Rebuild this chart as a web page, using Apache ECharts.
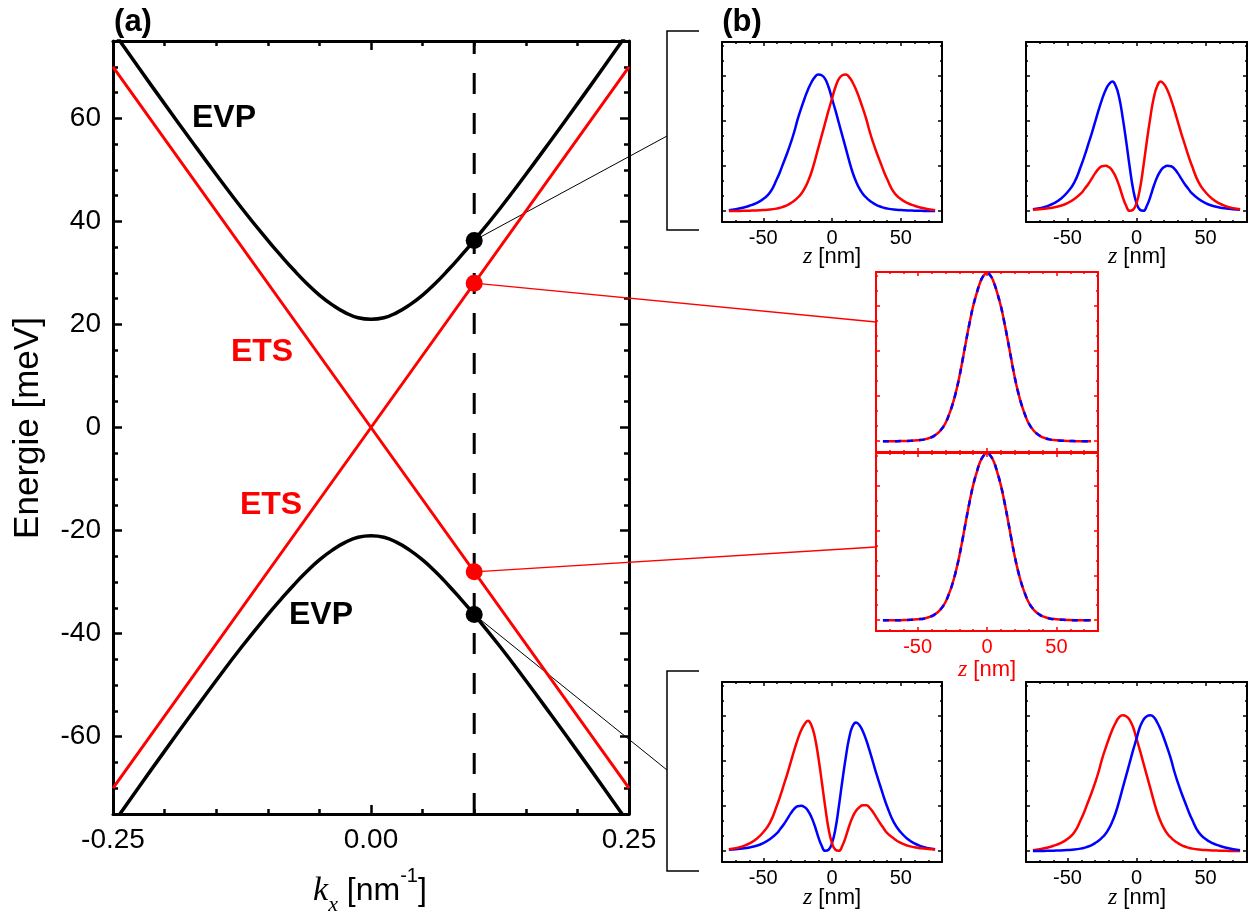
<!DOCTYPE html>
<html><head><meta charset="utf-8">
<script src="https://cdn.jsdelivr.net/npm/echarts@6/dist/echarts.min.js"></script>
<style>html,body{margin:0;padding:0;background:#fff}#c{width:1250px;height:913px}</style>
</head><body><div id="c"></div>
<script>
// ---------------- data ----------------
const kEVP = [-0.25,-0.225,-0.2,-0.175,-0.15,-0.125,-0.1,-0.0875,-0.075,-0.0625,-0.05,-0.0375,-0.025,-0.0125,0,0.0125,0.025,0.0375,0.05,0.0625,0.075,0.0875,0.1,0.125,0.15,0.175,0.2,0.225,0.25];
const evpUpper = [76.9,69.8,62.8,55.9,49.1,42.5,36.3,33.4,30.6,28.0,25.7,23.8,22.3,21.3,21.0,21.3,22.3,23.8,25.7,28.0,30.6,33.4,36.3,42.5,49.1,55.9,62.8,69.8,76.9];
const evpLower = [-76.9,-69.8,-62.8,-55.9,-49.1,-42.5,-36.3,-33.4,-30.6,-28.0,-25.7,-23.8,-22.3,-21.3,-21.0,-21.3,-22.3,-23.8,-25.7,-28.0,-30.6,-33.4,-36.3,-42.5,-49.1,-55.9,-62.8,-69.8,-76.9];
const kETS = [-0.25, 0, 0.25];
const etsFalling = [70, 0, -70];
const etsRising = [-70, 0, 70];
const kCut = 0.1;
const dotsEVP = [36.3, -36.3];
const dotsETS = [28, -28];
const kRange = [-0.25, 0.25];
const eRange = [-75, 75];
const kTicks = [-0.25, 0, 0.25];
const kMinorTicks = [-0.2,-0.15,-0.1,-0.05,0.05,0.1,0.15,0.2];
const eTicks = [-60,-40,-20,0,20,40,60];
const eMinorTicks = [-75,-70,-65,-55,-50,-45,-35,-30,-25,-15,-10,-5,5,10,15,25,30,35,45,50,55,65,70,75];
const zRange = [-80, 80];
const zTicks = [-50, 0, 50];
const zMinorTicks = [-70,-60,-40,-30,-20,-10,10,20,30,40,60,70];
const psiTicks = [0, 0.25, 0.5, 0.75];
const psiMinorTicks = [0.0833,0.1667,0.3333,0.4167,0.5833,0.6667,0.8333,0.9167];
const zGrid = [-75,-70,-65,-60,-55,-50,-45,-40,-37.5,-35,-32.5,-30,-27.5,-25,-22.5,-20,-17.5,-15,-12.5,-10,-7.5,-5,-2.5,0,2.5,5,7.5,10,12.5,15,17.5,20,22.5,25,27.5,30,32.5,35,37.5,40,45,50,55,60,65,70,75];
// top-left inset (upper EVP state)
const tlBlue = [0.006,0.011,0.019,0.03,0.045,0.068,0.105,0.18,0.225,0.275,0.325,0.38,0.44,0.51,0.57,0.625,0.675,0.715,0.745,0.76,0.755,0.735,0.69,0.625,0.56,0.49,0.42,0.35,0.28,0.215,0.165,0.125,0.095,0.075,0.058,0.045,0.034,0.026,0.02,0.015,0.009,0.006,0.004,0.003,0.002,0.001,0.001];
const tlRed  = [0.001,0.001,0.002,0.003,0.004,0.006,0.009,0.015,0.02,0.026,0.034,0.045,0.058,0.075,0.095,0.125,0.165,0.215,0.28,0.35,0.42,0.49,0.56,0.625,0.69,0.735,0.755,0.76,0.745,0.715,0.675,0.625,0.57,0.51,0.44,0.38,0.325,0.275,0.225,0.18,0.105,0.068,0.045,0.03,0.019,0.011,0.006];
// top-right inset
const trBlue = [0.011,0.017,0.027,0.043,0.068,0.105,0.16,0.255,0.31,0.37,0.43,0.495,0.56,0.62,0.67,0.705,0.72,0.695,0.63,0.52,0.39,0.25,0.125,0.045,0.008,0.002,0.03,0.08,0.14,0.19,0.225,0.245,0.252,0.25,0.235,0.21,0.18,0.15,0.125,0.1,0.068,0.045,0.03,0.021,0.015,0.011,0.008];
const trRed  = [0.008,0.011,0.015,0.021,0.03,0.045,0.068,0.1,0.125,0.15,0.18,0.21,0.235,0.25,0.252,0.245,0.225,0.19,0.14,0.08,0.03,0.002,0.008,0.045,0.125,0.25,0.39,0.52,0.63,0.695,0.72,0.705,0.67,0.62,0.56,0.495,0.43,0.37,0.31,0.255,0.16,0.105,0.068,0.043,0.027,0.017,0.011];
// middle insets (ETS states: red solid and blue dashed coincide)
const muRed  = [0,0,0,0.001,0.002,0.005,0.01,0.022,0.033,0.048,0.07,0.1,0.145,0.2,0.27,0.355,0.455,0.56,0.66,0.75,0.82,0.88,0.92,0.935,0.92,0.88,0.82,0.75,0.66,0.56,0.455,0.355,0.27,0.2,0.145,0.1,0.07,0.048,0.033,0.022,0.01,0.005,0.002,0.001,0,0,0];
const muBlue = [0,0,0,0.001,0.002,0.005,0.01,0.022,0.033,0.048,0.07,0.1,0.145,0.2,0.27,0.355,0.455,0.56,0.66,0.75,0.82,0.88,0.92,0.935,0.92,0.88,0.82,0.75,0.66,0.56,0.455,0.355,0.27,0.2,0.145,0.1,0.07,0.048,0.033,0.022,0.01,0.005,0.002,0.001,0,0,0];
const mlRed  = [0,0,0,0.001,0.002,0.005,0.01,0.022,0.033,0.048,0.07,0.1,0.145,0.2,0.27,0.355,0.455,0.56,0.66,0.75,0.82,0.88,0.915,0.93,0.915,0.88,0.82,0.75,0.66,0.56,0.455,0.355,0.27,0.2,0.145,0.1,0.07,0.048,0.033,0.022,0.01,0.005,0.002,0.001,0,0,0];
const mlBlue = [0,0,0,0.001,0.002,0.005,0.01,0.022,0.033,0.048,0.07,0.1,0.145,0.2,0.27,0.355,0.455,0.56,0.66,0.75,0.82,0.88,0.915,0.93,0.915,0.88,0.82,0.75,0.66,0.56,0.455,0.355,0.27,0.2,0.145,0.1,0.07,0.048,0.033,0.022,0.01,0.005,0.002,0.001,0,0,0];
// bottom-left inset
const blRed  = [0.011,0.017,0.027,0.043,0.068,0.105,0.16,0.255,0.31,0.37,0.43,0.495,0.56,0.62,0.67,0.705,0.725,0.7,0.635,0.525,0.39,0.25,0.125,0.045,0.008,0.002,0.03,0.08,0.14,0.19,0.225,0.245,0.255,0.255,0.24,0.215,0.185,0.155,0.128,0.102,0.07,0.046,0.031,0.022,0.016,0.012,0.009];
const blBlue = [0.008,0.011,0.015,0.021,0.03,0.045,0.068,0.1,0.125,0.15,0.18,0.21,0.235,0.25,0.252,0.245,0.225,0.19,0.14,0.08,0.03,0.002,0.008,0.045,0.125,0.25,0.39,0.52,0.63,0.695,0.715,0.7,0.665,0.615,0.555,0.49,0.425,0.365,0.305,0.25,0.16,0.105,0.068,0.043,0.027,0.017,0.011];
// bottom-right inset
const brRed  = [0.006,0.011,0.019,0.03,0.045,0.068,0.105,0.18,0.225,0.275,0.325,0.38,0.44,0.51,0.57,0.625,0.675,0.715,0.745,0.755,0.75,0.73,0.69,0.625,0.56,0.49,0.42,0.35,0.28,0.215,0.165,0.125,0.095,0.075,0.058,0.045,0.034,0.026,0.02,0.015,0.009,0.006,0.004,0.003,0.002,0.001,0.001];
const brBlue = [0.001,0.001,0.002,0.003,0.004,0.006,0.009,0.015,0.02,0.026,0.034,0.045,0.058,0.075,0.095,0.125,0.165,0.215,0.28,0.35,0.42,0.49,0.56,0.625,0.69,0.73,0.75,0.755,0.745,0.715,0.675,0.625,0.57,0.51,0.44,0.38,0.325,0.275,0.225,0.18,0.105,0.068,0.045,0.03,0.019,0.011,0.006];

// ---------------- styles ----------------
const SANS = "'Liberation Sans', Arial, sans-serif";
const SERIF = "'Liberation Serif', 'Times New Roman', serif";
const RED = '#ff0000', BLUE = '#0000ff', BLACK = '#000000';

const chart = echarts.init(document.getElementById('c'), null, {renderer: 'canvas'});

const grids = [
  {left: 113, top: 41, width: 516, height: 773},   // 0 main
  {left: 722, top: 42, width: 220, height: 180},   // 1 top-left
  {left: 1026, top: 42, width: 221, height: 180},  // 2 top-right
  {left: 876, top: 272, width: 222, height: 180},  // 3 middle upper
  {left: 876, top: 453, width: 222, height: 178},  // 4 middle lower
  {left: 722, top: 682, width: 220, height: 180},  // 5 bottom-left
  {left: 1026, top: 682, width: 221, height: 180}  // 6 bottom-right
].map(g => Object.assign({containLabel: false, outerBoundsMode: 'none', show: false}, g));

const xAxes = [], yAxes = [];
function addBox(g, o) {
  const xi = xAxes.length, yi = yAxes.length;
  const base = {gridIndex: g, type: 'value', splitLine: {show: false}, splitArea: {show: false}, silent: true};
  const line = {show: true, onZero: false, lineStyle: {color: o.color, width: o.axisW}};
  const noLine = {show: false, onZero: false};
  const tick = (vals, len) => ({show: true, inside: true, length: len, customValues: vals, lineStyle: {color: o.color, width: o.tickW}});
  const lab = (vals, fmt) => ({show: true, customValues: vals, formatter: fmt, color: o.color, fontSize: o.labelSize, fontFamily: SANS, margin: o.labelMargin});
  const nolab = {show: false};
  const xr = {min: o.xRange[0], max: o.xRange[1]}, yr = {min: o.yRange[0], max: o.yRange[1]};
  xAxes.push(Object.assign({}, base, xr, {position: 'bottom', axisLine: line, axisTick: tick(o.xMajor, o.majLen), axisLabel: o.xFmt ? lab(o.xMajor, o.xFmt) : nolab}));
  xAxes.push(Object.assign({}, base, xr, {position: 'bottom', axisLine: noLine, axisTick: tick(o.xMinor, o.minLen), axisLabel: nolab}));
  xAxes.push(Object.assign({}, base, xr, {position: 'top', axisLine: line, axisTick: tick(o.xMajor, o.majLen), axisLabel: nolab}));
  xAxes.push(Object.assign({}, base, xr, {position: 'top', axisLine: noLine, axisTick: tick(o.xMinor, o.minLen), axisLabel: nolab}));
  yAxes.push(Object.assign({}, base, yr, {position: 'left', axisLine: line, axisTick: tick(o.yMajor, o.majLen), axisLabel: o.yFmt ? lab(o.yMajor, o.yFmt) : nolab}));
  yAxes.push(Object.assign({}, base, yr, {position: 'left', axisLine: noLine, axisTick: tick(o.yMinor, o.minLen), axisLabel: nolab}));
  yAxes.push(Object.assign({}, base, yr, {position: 'right', axisLine: line, axisTick: tick(o.yMajor, o.majLen), axisLabel: nolab}));
  yAxes.push(Object.assign({}, base, yr, {position: 'right', axisLine: noLine, axisTick: tick(o.yMinor, o.minLen), axisLabel: nolab}));
  return {xi, yi};
}

const mainBox = addBox(0, {xRange: kRange, yRange: eRange, xMajor: kTicks, xMinor: kMinorTicks, yMajor: eTicks, yMinor: eMinorTicks,
  color: BLACK, axisW: 3, tickW: 2.5, majLen: 9, minLen: 5, labelSize: 28, labelMargin: 12,
  xFmt: v => Number(v).toFixed(2), yFmt: v => String(v)});

function insetBox(g, color, yMax, showX) {
  return addBox(g, {xRange: zRange, yRange: [-0.06, yMax], xMajor: zTicks, xMinor: zMinorTicks, yMajor: psiTicks, yMinor: psiMinorTicks,
    color: color, axisW: 2, tickW: 1.5, majLen: 4, minLen: 2, labelSize: 20, labelMargin: 6,
    xFmt: showX ? (v => String(v)) : null, yFmt: null});
}
const boxTL = insetBox(1, BLACK, 0.94, true);
const boxTR = insetBox(2, BLACK, 0.94, true);
const boxMU = insetBox(3, RED, 0.94, false);
const boxML = insetBox(4, RED, 0.93, true);
const boxBL = insetBox(5, BLACK, 0.94, true);
const boxBR = insetBox(6, BLACK, 0.94, true);

const series = [];
const onBox = b => ({xAxisIndex: b.xi, yAxisIndex: b.yi});
const pairs = (xs, ys) => xs.map((x, i) => [x, ys[i]]);

// main panel
series.push(Object.assign({type: 'line', data: [[kCut, eRange[0]], [kCut, eRange[1]]], symbol: 'none', z: 1,
  lineStyle: {color: BLACK, width: 3, type: [21, 19]}}, onBox(mainBox)));
series.push(Object.assign({type: 'line', data: pairs(kETS, etsFalling), symbol: 'none', z: 2, lineStyle: {color: RED, width: 3}}, onBox(mainBox)));
series.push(Object.assign({type: 'line', data: pairs(kETS, etsRising), symbol: 'none', z: 2, lineStyle: {color: RED, width: 3}}, onBox(mainBox)));
series.push(Object.assign({type: 'line', data: pairs(kEVP, evpUpper), symbol: 'none', smooth: 0.5, z: 3, lineStyle: {color: BLACK, width: 3.5}}, onBox(mainBox)));
series.push(Object.assign({type: 'line', data: pairs(kEVP, evpLower), symbol: 'none', smooth: 0.5, z: 3, lineStyle: {color: BLACK, width: 3.5}}, onBox(mainBox)));
const iDotBlack = series.length;
series.push(Object.assign({type: 'scatter', data: dotsEVP.map(e => [kCut, e]), symbol: 'circle', symbolSize: 17, z: 10, itemStyle: {color: BLACK, opacity: 1}}, onBox(mainBox)));
const iDotRed = series.length;
series.push(Object.assign({type: 'scatter', data: dotsETS.map(e => [kCut, e]), symbol: 'circle', symbolSize: 17, z: 10, itemStyle: {color: RED, opacity: 1}}, onBox(mainBox)));

function curve(box, ys, color, dash, z) {
  series.push(Object.assign({type: 'line', data: pairs(zGrid, ys), symbol: 'none', smooth: 0.5, z: z || 2,
    lineStyle: {color: color, width: 2.5, type: dash || 'solid'}}, onBox(box)));
}
curve(boxTL, tlBlue, BLUE); curve(boxTL, tlRed, RED);
curve(boxTR, trBlue, BLUE); curve(boxTR, trRed, RED);
curve(boxMU, muRed, RED); curve(boxMU, muBlue, BLUE, [6, 6], 3);
curve(boxML, mlRed, RED); curve(boxML, mlBlue, BLUE, [6, 6], 3);
curve(boxBL, blBlue, BLUE); curve(boxBL, blRed, RED);
curve(boxBR, brRed, RED); curve(boxBR, brBlue, BLUE);

chart.setOption({
  animation: false,
  backgroundColor: '#ffffff',
  grid: grids, xAxis: xAxes, yAxis: yAxes, series: series
});

// ---------------- annotations ----------------
function txt(x, y, text, size, color, weight, extra) {
  return Object.assign({type: 'text', x: x, y: y, z: 20, silent: true,
    style: {text: text, fontSize: size, fontFamily: SANS, fontWeight: weight || 'normal', fill: color,
      align: 'center', verticalAlign: 'middle', textAlign: 'center', textVerticalAlign: 'middle'}}, extra || {});
}
function zLabel(x, y, color) {
  return {type: 'text', x: x, y: y, z: 20, silent: true, style: {
    text: '{z|z}{n| [nm]}', fill: color, align: 'center', verticalAlign: 'middle', textAlign: 'center', textVerticalAlign: 'middle',
    rich: {z: {fontFamily: SERIF, fontStyle: 'italic', fontSize: 24, fill: color, color: color},
           n: {fontFamily: SANS, fontSize: 22, fill: color, color: color}}}};
}
const pBU = chart.convertToPixel({seriesIndex: iDotBlack}, [kCut, dotsEVP[0]]);
const pBL = chart.convertToPixel({seriesIndex: iDotBlack}, [kCut, dotsEVP[1]]);
const pRU = chart.convertToPixel({seriesIndex: iDotRed}, [kCut, dotsETS[0]]);
const pRL = chart.convertToPixel({seriesIndex: iDotRed}, [kCut, dotsETS[1]]);
const seg = (a, b, color, w) => ({type: 'line', z: 1, silent: true, shape: {x1: a[0], y1: a[1], x2: b[0], y2: b[1]}, style: {stroke: color, lineWidth: w}});

const graphics = [
  txt(133, 22, '(a)', 31, BLACK, 'bold'),
  txt(742, 22, '(b)', 31, BLACK, 'bold'),
  txt(224, 118, 'EVP', 32, BLACK, 'bold'),
  txt(262, 352, 'ETS', 32, RED, 'bold'),
  txt(271, 505, 'ETS', 32, RED, 'bold'),
  txt(321, 615, 'EVP', 32, BLACK, 'bold'),
  txt(28, 428, 'Energie [meV]', 35, BLACK, 'normal', {rotation: Math.PI / 2}),
  {type: 'text', x: 370, y: 891, z: 20, silent: true, style: {
    text: '{k|k}{s|x}{n| [nm}{p|-1}{n|]}', fill: BLACK, align: 'center', verticalAlign: 'middle', textAlign: 'center', textVerticalAlign: 'middle',
    rich: {k: {fontFamily: SERIF, fontStyle: 'italic', fontSize: 34, lineHeight: 50, verticalAlign: 'middle'},
           s: {fontFamily: SERIF, fontStyle: 'italic', fontSize: 22, lineHeight: 20, verticalAlign: 'bottom'},
           n: {fontFamily: SANS, fontSize: 32, lineHeight: 50, verticalAlign: 'middle'},
           p: {fontFamily: SANS, fontSize: 20, lineHeight: 30, verticalAlign: 'top'}}}},
  zLabel(832, 257, BLACK), zLabel(1137, 257, BLACK),
  zLabel(987, 670, RED),
  zLabel(832, 898, BLACK), zLabel(1137, 898, BLACK),
  {type: 'polyline', z: 1, silent: true, shape: {points: [[699, 31], [667, 31], [667, 230], [699, 230]]}, style: {stroke: BLACK, lineWidth: 1.5, fill: null}},
  {type: 'polyline', z: 1, silent: true, shape: {points: [[699, 671], [667, 671], [667, 871], [699, 871]]}, style: {stroke: BLACK, lineWidth: 1.5, fill: null}},
  seg(pBU, [667, 136], BLACK, 1),
  seg(pBL, [667, 770], BLACK, 1),
  seg(pRU, [876, 322], RED, 1.3),
  seg(pRL, [876, 547], RED, 1.3)
];
chart.setOption({graphic: {elements: graphics}});
</script>
</body></html>
